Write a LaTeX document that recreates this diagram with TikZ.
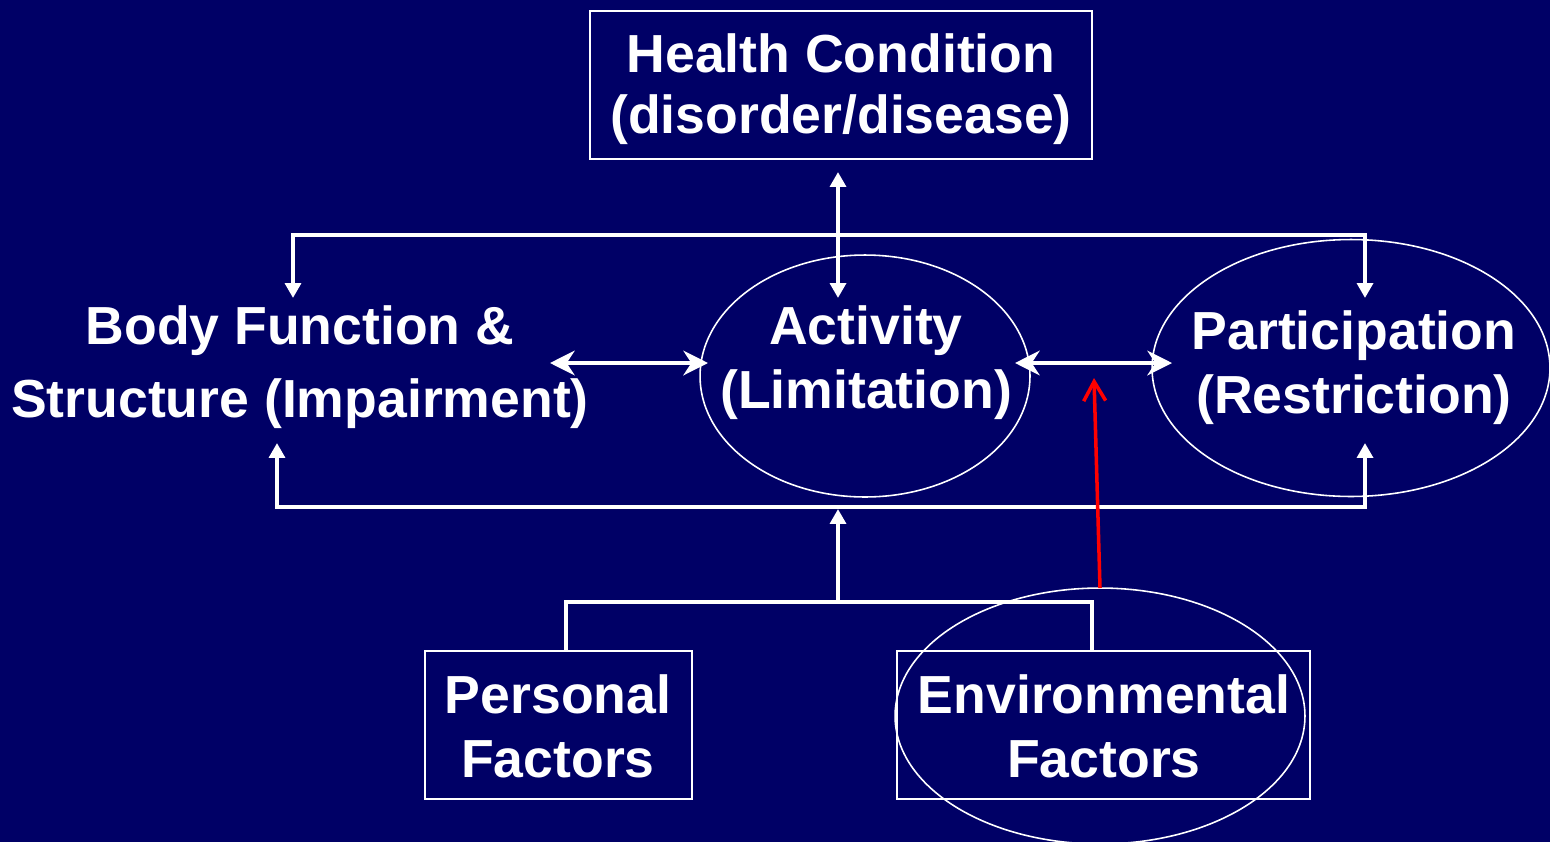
\documentclass[tikz,border=0pt]{standalone}
\usepackage{fontspec}
\setmainfont{Liberation Sans}
\usetikzlibrary{arrows.meta,shapes.geometric}
\definecolor{bg}{RGB}{0,0,102}
\begin{document}
\begin{tikzpicture}[x=0.02cm,y=-0.02cm,
  lbl/.style={text=white,font=\bfseries\fontsize{30.5}{36.5}\selectfont,align=center,inner sep=0pt},
  frame/.style={draw=white,line width=0.9pt,inner sep=0pt},
  oval/.style={ellipse,draw=white,line width=0.9pt,inner sep=0pt},
  wline/.style={draw=white,line width=2.4pt,line join=miter},
  tri/.style={wline,{Triangle[length=8.5pt,width=9pt]}-{Triangle[length=8.5pt,width=9pt]}},
  uptri/.style={wline,-{Triangle[length=8.5pt,width=9pt]}},
  stl/.style={wline,{Stealth[length=14pt,width=14pt,inset=4.5pt]}-{Stealth[length=14pt,width=14pt,inset=4.5pt]}},
  redarr/.style={draw=red,line width=2pt,-{Straight Barb[length=11pt,width=12.5pt,line width=2pt]}}]
\fill[bg] (0,0) rectangle (1550,842);
\useasboundingbox (0,0) rectangle (1550,842);
% ellipses
\node[oval,minimum width=6.6cm,minimum height=4.84cm] (actE) at (865,376) {};
\node[oval,minimum width=7.96cm,minimum height=5.14cm] (partE) at (1351,368) {};
\node[oval,minimum width=8.2cm,minimum height=5.12cm] (envE) at (1100,716) {};
% boxes
\node[frame,minimum width=10.04cm,minimum height=2.96cm] (hcB) at (841,85) {};
\node[frame,minimum width=5.34cm,minimum height=2.96cm] (pfB) at (558.5,725) {};
\node[frame,minimum width=8.26cm,minimum height=2.96cm] (efB) at (1103.5,725) {};
% texts
\node[lbl,font=\bfseries\fontsize{30.5}{35}\selectfont] (hc) at (841,89) {Health Condition\\(disorder/disease)};
\node[lbl,font=\bfseries\fontsize{30.5}{41.5}\selectfont] (body) at (300,367) {Body Function \&\\Structure (Impairment)};
\node[lbl] (act) at (866,363) {Activity\\(Limitation)};
\node[lbl] (part) at (1354,368) {Participation\\(Restriction)};
\node[lbl] (pf) at (558,726) {Personal\\Factors};
\node[lbl] (ef) at (1104,726) {Environmental\\Factors};
% coordinates
\coordinate (bodyTop) at (293,298);
\coordinate (topR) at (1365,235);
\coordinate (partTop) at (1365,298);
\coordinate (hcArr) at (838,172);
\coordinate (actTop) at (838,298);
\coordinate (bodyBot) at (277,443);
\coordinate (botR) at (1365,507);
\coordinate (partBot) at (1365,443);
\coordinate (barMid) at (838,509);
\coordinate (brMid) at (838,602);
\coordinate (pfTop) at (566,651);
\coordinate (brR) at (1092,602);
\coordinate (efTop) at (1092,651);
\coordinate (bodyR) at (550,363);
\coordinate (actL) at (708,363);
\coordinate (actR) at (1015,363);
\coordinate (partL) at (1172,363);
\coordinate (envTop) at (1100,588);
\coordinate (redTip) at (1094,378);
% connectors
\draw[tri] (bodyTop) |- (topR) -- (partTop);
\draw[tri] (hcArr) -- (actTop);
\draw[tri] (bodyBot) |- (botR) -- (partBot);
\draw[uptri] (brMid) -- (barMid);
\draw[wline] (pfTop) |- (brR) -- (efTop);
\draw[stl] (bodyR) -- (actL);
\draw[stl] (actR) -- (partL);
\draw[redarr] (envTop) -- (redTip);
\end{tikzpicture}
\end{document}
